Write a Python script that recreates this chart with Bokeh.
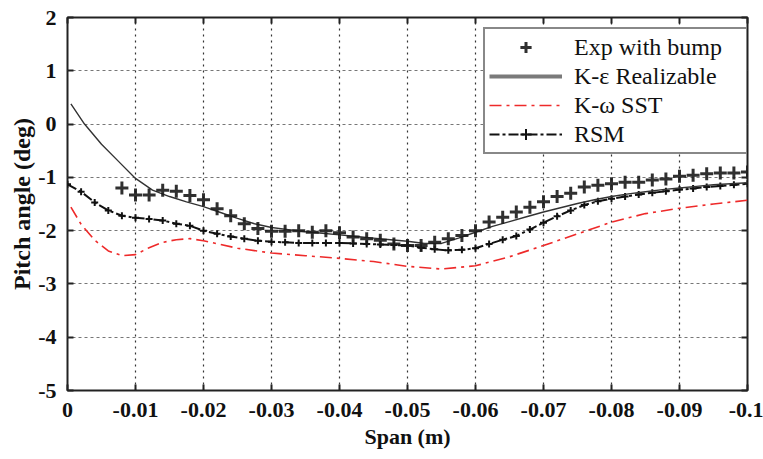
from bokeh.plotting import figure
from bokeh.models import Range1d, FixedTicker, LinearAxis, Legend, LegendItem
from bokeh.embed import file_html
from bokeh.resources import INLINE

# ---------------- data ----------------
x_ticks = [0, -0.01, -0.02, -0.03, -0.04, -0.05, -0.06, -0.07, -0.08, -0.09, -0.1]
x_tick_labels = ["0", "-0.01", "-0.02", "-0.03", "-0.04", "-0.05", "-0.06", "-0.07", "-0.08", "-0.09", "-0.1"]
y_ticks = [2, 1, 0, -1, -2, -3, -4, -5]
y_tick_labels = ["2", "1", "0", "-1", "-2", "-3", "-4", "-5"]

exp_x = [-0.008, -0.010, -0.012, -0.014, -0.016, -0.018, -0.020, -0.022, -0.024, -0.026,
         -0.028, -0.030, -0.032, -0.034, -0.036, -0.038, -0.040, -0.042, -0.044, -0.046,
         -0.048, -0.050, -0.052, -0.054, -0.056, -0.058, -0.060, -0.062, -0.064, -0.066,
         -0.068, -0.070, -0.072, -0.074, -0.076, -0.078, -0.080, -0.082, -0.084, -0.086,
         -0.088, -0.090, -0.092, -0.094, -0.096, -0.098, -0.100]
exp_y = [-1.20, -1.33, -1.33, -1.24, -1.26, -1.34, -1.42, -1.59, -1.72, -1.87,
         -1.96, -2.01, -2.01, -2.00, -2.03, -2.00, -2.04, -2.12, -2.15, -2.18,
         -2.25, -2.28, -2.28, -2.22, -2.15, -2.09, -2.00, -1.84, -1.75, -1.65,
         -1.56, -1.46, -1.36, -1.30, -1.18, -1.15, -1.12, -1.09, -1.09, -1.05,
         -1.03, -0.98, -0.96, -0.93, -0.92, -0.92, -0.90]

ke_x = [-0.0005, -0.0025, -0.005, -0.0075, -0.010, -0.0125, -0.015, -0.0175, -0.020, -0.0225,
        -0.025, -0.0275, -0.030, -0.0325, -0.035, -0.0375, -0.040, -0.0425, -0.045, -0.0475,
        -0.050, -0.0525, -0.055, -0.0575, -0.060, -0.0625, -0.065, -0.0675, -0.070, -0.0725,
        -0.075, -0.0775, -0.080, -0.0825, -0.085, -0.0875, -0.090, -0.0925, -0.095, -0.0975, -0.100]
ke_y = [0.38, 0.00, -0.38, -0.70, -1.02, -1.24, -1.36, -1.46, -1.55, -1.66,
        -1.77, -1.87, -1.94, -1.98, -2.02, -2.05, -2.08, -2.11, -2.14, -2.17,
        -2.20, -2.24, -2.24, -2.14, -2.03, -1.92, -1.83, -1.74, -1.65, -1.57,
        -1.49, -1.42, -1.36, -1.31, -1.27, -1.23, -1.20, -1.17, -1.14, -1.12, -1.10]

sst_x = [-0.0005, -0.002, -0.004, -0.006, -0.008, -0.010, -0.012, -0.014, -0.016, -0.018,
         -0.020, -0.025, -0.030, -0.035, -0.040, -0.045, -0.050, -0.055, -0.060, -0.065,
         -0.070, -0.075, -0.080, -0.085, -0.090, -0.095, -0.100]
sst_y = [-1.56, -1.88, -2.18, -2.38, -2.47, -2.45, -2.32, -2.22, -2.17, -2.15,
         -2.19, -2.33, -2.42, -2.47, -2.52, -2.58, -2.67, -2.72, -2.66, -2.49,
         -2.28, -2.06, -1.84, -1.68, -1.58, -1.50, -1.43]

rsm_x = [0.000, -0.002, -0.004, -0.006, -0.008, -0.010, -0.012, -0.014, -0.016, -0.018,
         -0.020, -0.022, -0.024, -0.026, -0.028, -0.030, -0.032, -0.034, -0.036, -0.038,
         -0.040, -0.042, -0.044, -0.046, -0.048, -0.050, -0.052, -0.054, -0.056, -0.058,
         -0.060, -0.062, -0.064, -0.066, -0.068, -0.070, -0.072, -0.074, -0.076, -0.078,
         -0.080, -0.082, -0.084, -0.086, -0.088, -0.090, -0.092, -0.094, -0.096, -0.098, -0.100]
rsm_y = [-1.13, -1.27, -1.47, -1.62, -1.72, -1.76, -1.78, -1.81, -1.87, -1.91,
         -2.00, -2.06, -2.11, -2.15, -2.19, -2.21, -2.22, -2.23, -2.23, -2.23,
         -2.23, -2.24, -2.25, -2.26, -2.27, -2.28, -2.32, -2.35, -2.37, -2.36,
         -2.33, -2.25, -2.17, -2.10, -1.98, -1.85, -1.73, -1.62, -1.52, -1.45,
         -1.40, -1.36, -1.32, -1.29, -1.26, -1.23, -1.21, -1.18, -1.16, -1.14, -1.12]

# ---------------- figure ----------------
SERIF = "Liberation Serif"

p = figure(width=763, height=459, x_range=Range1d(0, -0.1), y_range=Range1d(-5, 2),
           output_backend="svg", toolbar_location=None,
           min_border_left=67, min_border_right=16, min_border_top=17, min_border_bottom=69)
p.background_fill_color = "white"
p.border_fill_color = "white"
p.outline_line_color = "#222222"
p.outline_line_width = 2

p.xaxis.ticker = FixedTicker(ticks=x_ticks)
p.xaxis.major_label_overrides = dict(zip(x_ticks, x_tick_labels))
p.yaxis.ticker = FixedTicker(ticks=y_ticks)
p.yaxis.major_label_overrides = dict(zip(y_ticks, y_tick_labels))

for ax in (p.xaxis[0], p.yaxis[0]):
    ax.major_label_text_font = SERIF
    ax.major_label_text_font_style = "bold"
    ax.major_label_text_font_size = "22px"
    ax.major_label_text_color = "#111111"
    ax.axis_label_text_font = SERIF
    ax.axis_label_text_font_style = "bold"
    ax.axis_label_text_color = "#111111"
    ax.axis_line_color = None
    ax.major_tick_in = 6
    ax.major_tick_out = 0
    ax.major_tick_line_color = "#222222"
    ax.major_tick_line_width = 2
    ax.minor_tick_line_color = None

p.xaxis.axis_label = "Span (m)"
p.xaxis.axis_label_text_font_size = "22px"
p.xaxis.major_label_standoff = 12
p.xaxis.axis_label_standoff = 4
p.yaxis.axis_label = "Pitch angle (deg)"
p.yaxis.axis_label_text_font_size = "24px"
p.yaxis.major_label_standoff = 11
p.yaxis.axis_label_standoff = 0

above = LinearAxis(ticker=FixedTicker(ticks=x_ticks),
                   major_label_overrides={t: "" for t in x_ticks},
                   major_label_text_font_size="6px",
                   major_label_standoff=0, major_tick_in=6, major_tick_out=0,
                   major_tick_line_width=2, major_tick_line_color="#222222",
                   axis_line_color=None, minor_tick_line_color=None)
right = LinearAxis(ticker=FixedTicker(ticks=y_ticks),
                   major_label_overrides={t: "" for t in y_ticks},
                   major_label_text_font_size="6px",
                   major_label_standoff=0, major_tick_in=6, major_tick_out=0,
                   major_tick_line_width=2, major_tick_line_color="#222222",
                   axis_line_color=None, minor_tick_line_color=None)
p.add_layout(above, "above")
p.add_layout(right, "right")

p.xgrid.grid_line_color = "#333333"
p.xgrid.grid_line_dash = "2 4"
p.xgrid.grid_line_width = 1.2
p.ygrid.grid_line_color = "#777777"
p.ygrid.grid_line_dash = "3 3"
p.ygrid.grid_line_width = 1.2

# ---------------- series ----------------
r_sst = p.line(sst_x, sst_y, line_color="#ee2a2a", line_width=1.6, line_dash="12 5 3 5")
r_rsm_line = p.line(rsm_x, rsm_y, line_color="#111111", line_width=2, line_dash="10 3 3 3")
r_rsm_mk = p.scatter(rsm_x, rsm_y, marker="cross", size=7, line_color="#111111", line_width=2)
r_ke = p.line(ke_x, ke_y, line_color="#333333", line_width=1.4)
r_exp = p.scatter(exp_x, exp_y, marker="cross", size=13, line_color="#1a1a1a",
                  line_width=3, line_alpha=0.9)

# legend proxy for K-e (thick grey line shown in the legend); NaN point draws nothing
r_ke_leg = p.line([float("nan")], [float("nan")], line_color="#7a7a7a", line_width=4)

legend = Legend(items=[
    LegendItem(label="Exp with bump", renderers=[r_exp]),
    LegendItem(label="K-\u03b5 Realizable", renderers=[r_ke_leg]),
    LegendItem(label="K-\u03c9 SST", renderers=[r_sst]),
    LegendItem(label="RSM", renderers=[r_rsm_line, r_rsm_mk]),
], location=(416, 236))
legend.margin = 0
legend.padding = 4
legend.spacing = 1
legend.glyph_width = 73
legend.glyph_height = 28
legend.label_height = 28
legend.label_width = 168
legend.label_standoff = 12
legend.label_text_font = SERIF
legend.label_text_font_size = "24px"
legend.label_text_color = "#111111"
legend.border_line_color = "#111111"
legend.border_line_width = 2
legend.background_fill_color = "white"
legend.background_fill_alpha = 1.0
p.add_layout(legend, "center")

open("out.html", "w").write(file_html(p, INLINE))
